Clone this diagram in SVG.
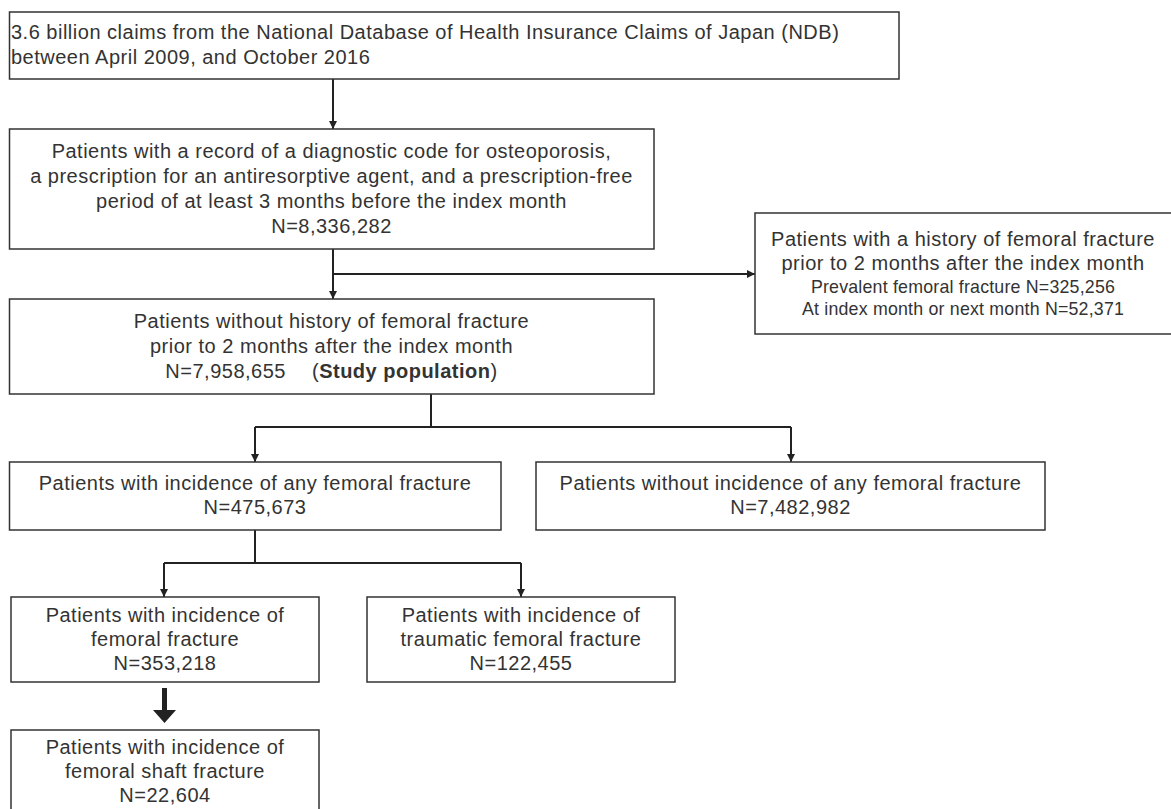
<svg xmlns="http://www.w3.org/2000/svg" width="1171" height="809" viewBox="0 0 1171 809">
<defs>
<style>
.box{fill:#fff;stroke:#333;stroke-width:1.5}
.t{font-family:"Liberation Sans",Arial,sans-serif;font-size:20px;letter-spacing:0.5px;fill:#333;text-anchor:middle}
.l{text-anchor:start}
.s{font-size:17.8px;letter-spacing:0.2px}
.b{font-weight:bold}
.conn{stroke:#222;stroke-width:2;fill:none}
.arr{marker-end:url(#ah)}
</style>
<marker id="ah" markerUnits="userSpaceOnUse" markerWidth="9" markerHeight="9" refX="8" refY="4" orient="auto">
<path d="M0,0 L8,4 L0,8 Z" fill="#222"/>
</marker>
</defs>
<rect width="1171" height="809" fill="#fff"/>

<g id="connectors">
<path class="conn arr" d="M333,79 V129"/>
<path class="conn arr" d="M333,249 V299"/>
<path class="conn arr" d="M333,274 H755"/>
<path class="conn" d="M431,394 V427"/>
<path class="conn" d="M255,427 H791"/>
<path class="conn arr" d="M255,427 V462"/>
<path class="conn arr" d="M791,427 V462"/>
<path class="conn" d="M255,530 V563"/>
<path class="conn" d="M164,563 H521"/>
<path class="conn arr" d="M164,563 V597"/>
<path class="conn arr" d="M521,563 V597"/>
<polygon points="162,688 167,688 167,710 176,710 164.5,723 153,710 162,710" fill="#222"/>
</g>

<g id="n1">
<rect class="box" x="9.5" y="12" width="889.5" height="67"/>
<text class="t l" x="11" y="39">3.6 billion claims from the National Database of Health Insurance Claims of Japan (NDB)</text>
<text class="t l" x="11" y="64">between April 2009, and October 2016</text>
</g>

<g id="n2">
<rect class="box" x="9.5" y="129" width="644.5" height="120"/>
<text class="t" x="331.5" y="158">Patients with a record of a diagnostic code for osteoporosis,</text>
<text class="t" x="331.5" y="183">a prescription for an antiresorptive agent, and a prescription-free</text>
<text class="t" x="331.5" y="208">period of at least 3 months before the index month</text>
<text class="t" x="331.5" y="233">N=8,336,282</text>
</g>

<g id="n3">
<rect class="box" x="755" y="213" width="418" height="121"/>
<text class="t" x="963" y="246">Patients with a history of femoral fracture</text>
<text class="t" x="963" y="270">prior to 2 months after the index month</text>
<text class="t s" x="963" y="293">Prevalent femoral fracture N=325,256</text>
<text class="t s" x="963" y="315">At index month or next month N=52,371</text>
</g>

<g id="n4">
<rect class="box" x="9.5" y="299" width="644.5" height="95"/>
<text class="t" x="331.5" y="328">Patients without history of femoral fracture</text>
<text class="t" x="331.5" y="353">prior to 2 months after the index month</text>
<text class="t" x="331.5" y="378">N=7,958,655<tspan dx="26">(</tspan><tspan class="b">Study population</tspan>)</text>
</g>

<g id="n5">
<rect class="box" x="9.5" y="462" width="491.5" height="68"/>
<text class="t" x="255" y="490">Patients with incidence of any femoral fracture</text>
<text class="t" x="255" y="514">N=475,673</text>
</g>

<g id="n6">
<rect class="box" x="536" y="462" width="509" height="68"/>
<text class="t" x="790.5" y="490">Patients without incidence of any femoral fracture</text>
<text class="t" x="790.5" y="514">N=7,482,982</text>
</g>

<g id="n7">
<rect class="box" x="11" y="597" width="308" height="85"/>
<text class="t" x="165" y="622">Patients with incidence of</text>
<text class="t" x="165" y="646">femoral fracture</text>
<text class="t" x="165" y="670">N=353,218</text>
</g>

<g id="n8">
<rect class="box" x="367" y="597" width="308" height="85"/>
<text class="t" x="521" y="622">Patients with incidence of</text>
<text class="t" x="521" y="646">traumatic femoral fracture</text>
<text class="t" x="521" y="670">N=122,455</text>
</g>

<g id="n9">
<rect class="box" x="11" y="730" width="308" height="82"/>
<text class="t" x="165" y="754">Patients with incidence of</text>
<text class="t" x="165" y="778">femoral shaft fracture</text>
<text class="t" x="165" y="802">N=22,604</text>
</g>
</svg>
